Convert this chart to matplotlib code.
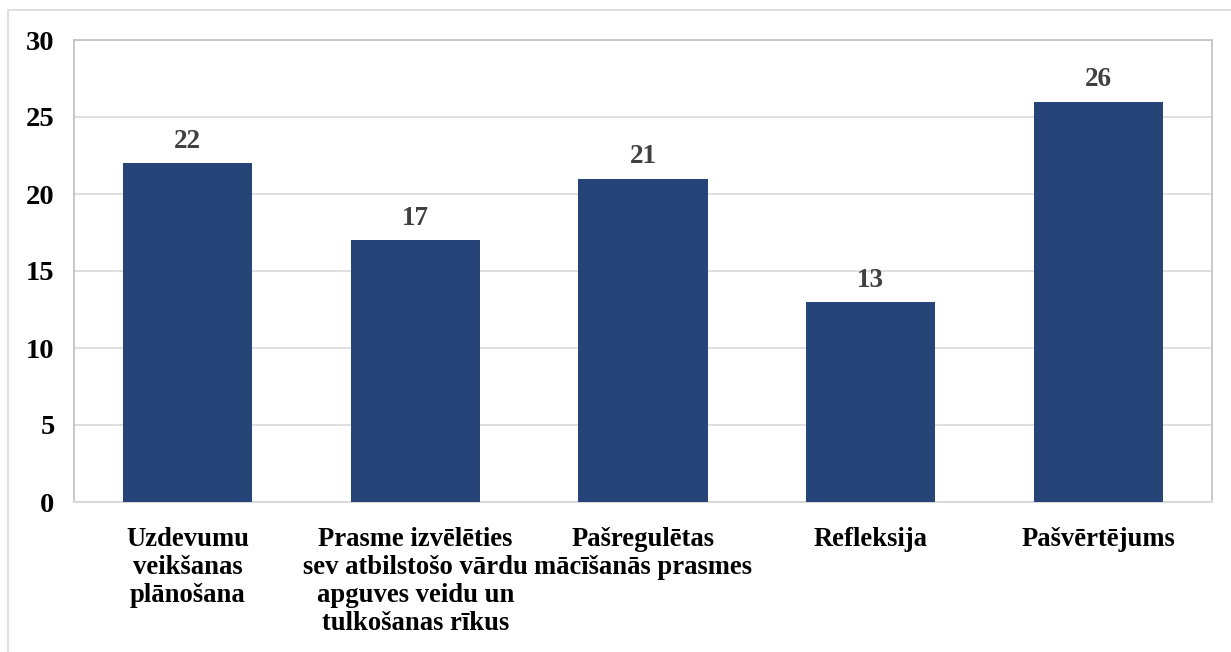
import matplotlib
matplotlib.use("Agg")
import matplotlib.pyplot as plt
from matplotlib.patches import Rectangle

categories = ["Uzdevumu\nveikšanas\nplānošana",
              "Prasme izvēlēties\nsev atbilstošo vārdu\napguves veidu un\ntulkošanas rīkus",
              "Pašregulētas\nmācīšanās prasmes",
              "Refleksija",
              "Pašvērtējums"]
values = [22, 17, 21, 13, 26]
yticks = [0, 5, 10, 15, 20, 25, 30]

plt.rcParams['font.family'] = ['Liberation Serif', 'DejaVu Serif']
plt.rcParams['font.weight'] = 'bold'

fig = plt.figure(figsize=(12.31, 6.52), dpi=100)
ax = fig.add_axes([74/1231, 1 - 502/652, (1212-74)/1231, (502-40)/652])

# outer chart border (left and top visible)
fig.patches.append(Rectangle((8/1231, -0.1), 1.2, 1 - 10/652 + 0.1, transform=fig.transFigure,
                             fill=False, edgecolor='#d9d9d9', linewidth=1.2))

x = range(len(values))
bars = ax.bar(x, values, width=0.567, color='#264478', zorder=3)
for xi, v in zip(x, values):
    ax.text(xi, v + 0.6, str(v), ha='center', va='bottom', fontsize=19.5,
            fontweight='bold', color='#404040')

ax.set_xlim(-0.5, len(values) - 0.5)
ax.set_ylim(0, 30)
ax.set_yticks(yticks)
ax.set_yticklabels([str(t) for t in yticks], fontsize=20.5, fontweight='bold')
ax.set_xticks(list(x))
ax.set_xticklabels(categories, fontsize=19.2, fontweight='bold', linespacing=1.16)
ax.tick_params(axis='both', length=0)
ax.tick_params(axis='x', pad=18)
ax.tick_params(axis='y', pad=14)
ax.grid(axis='y', color='#d9d9d9', linewidth=1.2, zorder=0)
for s in ax.spines.values():
    s.set_color('#bfbfbf')
    s.set_linewidth(1.2)
ax.spines['bottom'].set_color('#d9d9d9')
ax.spines['bottom'].set_linewidth(1.5)

plt.savefig('out.png', dpi=100)
